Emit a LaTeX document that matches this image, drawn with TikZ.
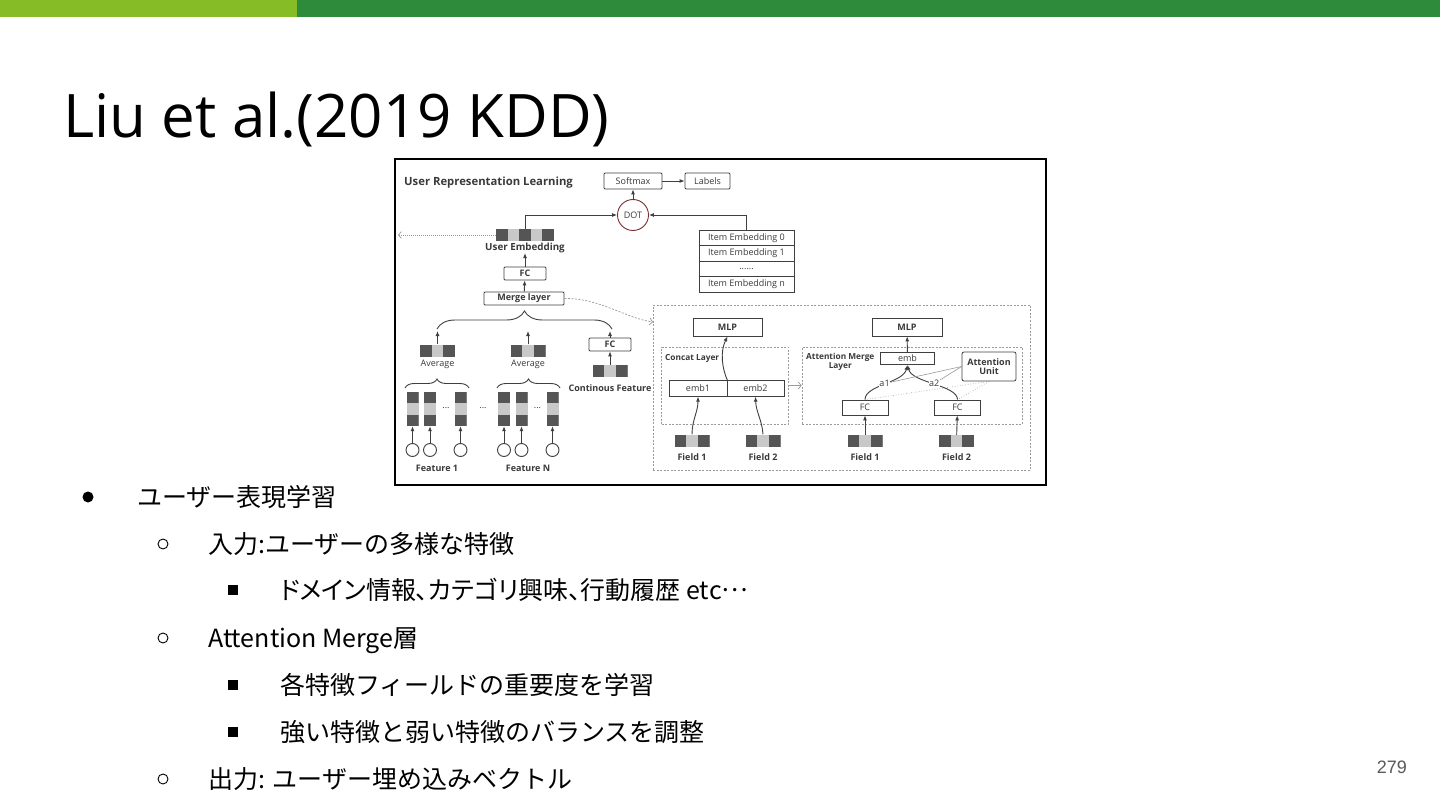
\documentclass[tikz,border=0pt]{standalone}
\usepackage{fontspec}
\setmainfont{Open Sans}
\newfontfamily\jpfont{Noto Sans CJK JP}
\newfontfamily\jppfont[RawFeature=+palt]{Noto Sans CJK JP}
\newfontfamily\numfont{Liberation Sans}
\usetikzlibrary{calc,arrows.meta,decorations.pathreplacing}

\definecolor{lightgreen}{HTML}{86BC25}
\definecolor{darkgreen}{HTML}{2D8B3B}
\definecolor{boxgray}{HTML}{3F3F3F}
\definecolor{txtgray}{HTML}{3A3A3A}
\definecolor{segdark}{HTML}{555555}
\definecolor{seglight}{HTML}{C8C8C8}
\definecolor{dashgray}{HTML}{9A9A9A}
\definecolor{dotred}{HTML}{7A3030}
\definecolor{pagegray}{HTML}{595959}

\begin{document}
\begin{tikzpicture}[x=1pt, y=-1pt,
    box/.style={draw=boxgray, line width=0.8pt, text=txtgray, font=\fontsize{9}{9.5}\selectfont, inner sep=0pt, rounded corners=1pt},
    bbox/.style={box, font=\bfseries\fontsize{9}{9.5}\selectfont},
    item/.style={box, rounded corners=0pt, minimum width=95, minimum height=15.5},
    lab/.style={text=txtgray, font=\bfseries\fontsize{9}{9.5}\selectfont, inner sep=0pt},
    thinlab/.style={text=txtgray, font=\fontsize{9}{9.5}\selectfont, inner sep=0pt},
    arr/.style={draw=boxgray, line width=0.9pt, -{Latex[length=5pt,width=4pt]}},
    openarr/.style={draw=dashgray, line width=0.7pt, -{Straight Barb[length=3pt,width=7pt]}},
    dashbox/.style={draw=dashgray, line width=0.6pt, dash pattern=on 2pt off 1.5pt, inner sep=0pt},
    featcirc/.style={circle, draw=boxgray, line width=0.9pt, minimum size=13, inner sep=0pt},
    bracedeco/.style={decorate, decoration={brace, amplitude=#1}, draw=boxgray, line width=0.9pt},
    hbarthree/.style={minimum width=35, minimum height=12, inner sep=0pt, fill=seglight,
      path picture={
        \fill[segdark] (path picture bounding box.south west) rectangle ($(path picture bounding box.north west)!0.333!(path picture bounding box.north east)$);
        \fill[segdark] ($(path picture bounding box.south west)!0.667!(path picture bounding box.south east)$) rectangle (path picture bounding box.north east);
      }},
    vbarthree/.style={minimum width=12, minimum height=34, inner sep=0pt, fill=seglight,
      path picture={
        \fill[segdark] (path picture bounding box.north west) rectangle ($(path picture bounding box.north east)!0.333!(path picture bounding box.south east)$);
        \fill[segdark] ($(path picture bounding box.north west)!0.667!(path picture bounding box.south west)$) rectangle (path picture bounding box.south east);
      }},
    hbarfive/.style={minimum width=58, minimum height=12, inner sep=0pt, fill=seglight,
      path picture={
        \foreach \a/\b in {0/0.2, 0.4/0.6, 0.8/1}
          \fill[segdark] ($(path picture bounding box.south west)!\a!(path picture bounding box.south east)$) rectangle ($(path picture bounding box.north west)!\b!(path picture bounding box.north east)$);
      }},
    jptext/.style={anchor=base west, inner sep=0pt, font=\jpfont\fontsize{25}{25}\selectfont}
]
    \fill[white] (0,0) rectangle (1440,810);
    \useasboundingbox (0,0) rectangle (1440,810);
    \fill[lightgreen] (0,0) rectangle (297,17);
    \fill[darkgreen] (297,0) rectangle (1440,17);

    \node [anchor=base west, inner sep=0pt, font=\fontsize{60}{60}\selectfont] (title) at (63,138) {Liu et al.(2019 KDD)};

    % figure
    \node [draw, line width=1.6pt, minimum width=651, minimum height=326, inner sep=0pt] (frame) at (720.5,322) {};
    \node [lab, anchor=west, font=\bfseries\fontsize{11.3}{12}\selectfont] (figtitle) at (404,183) {User Representation Learning};

    \node [box, minimum width=58, minimum height=16] (softmax) at (633,181) {Softmax};
    \node [box, minimum width=45, minimum height=16] (labels) at (707.5,181) {Labels};
    \node [circle, draw=dotred, line width=0.9pt, minimum size=31, inner sep=0pt, text=txtgray, font=\fontsize{9}{9.5}\selectfont] (dot) at (633,215) {DOT};

    \node [hbarfive] (uemb) at (525,235) {};
    \node [lab, font=\bfseries\fontsize{9.8}{10}\selectfont] (uemblab) at (525,248) {User Embedding};
    \node [bbox, minimum width=42, minimum height=13] (fc) at (525,273.5) {FC};
    \node [bbox, minimum width=80, minimum height=13] (merge) at (524,298.5) {Merge layer};

    \node [item] (item0) at (746.5,238) {Item Embedding 0};
    \node [item] (item1) at (746.5,253.5) {Item Embedding 1};
    \node [item] (itemdots) at (746.5,269) {......};
    \node [item] (itemn) at (746.5,284.5) {Item Embedding n};

    \coordinate (leftout) at (398,235);
    \coordinate (bigin) at (653,322);

    \draw [arr] (softmax) -- (labels);
    \draw [arr] (dot) -- (softmax);
    \draw [arr] (uemb.north) |- (dot);
    \draw [arr] (item0.north) |- (dot);
    \draw [arr] (fc) -- (uemblab);
    \draw [arr] (merge) -- (fc);
    \draw [openarr, dash pattern=on 1pt off 1pt] (uemb.west) -- (leftout);
    \draw [openarr, dash pattern=on 2pt off 1.5pt] (merge.east) .. controls (600,298) and (625,318) .. (bigin);

    % features
    \draw [bracedeco=18] (437,329) -- (612,329);
    \coordinate (bt1) at (437.5,331);
    \coordinate (bt2) at (528,331);
    \coordinate (bt3) at (610,331);

    \node [hbarthree] (avg1) at (437.5,350.5) {};
    \node [thinlab] (avg1lab) at (437.5,364) {Average};
    \node [hbarthree] (avg2) at (528,350.5) {};
    \node [thinlab] (avg2lab) at (528,364) {Average};
    \node [bbox, minimum width=42, minimum height=13] (cfc) at (610,344.5) {FC};
    \node [hbarthree] (cbar) at (610,371) {};
    \node [lab] (clab) at (610,388) {Continous Feature};

    \draw [arr] (avg1) -- (bt1);
    \draw [arr] (avg2) -- (bt2);
    \draw [arr] (cfc) -- (bt3);
    \draw [arr] (cbar) -- (cfc);

    \draw [bracedeco=9] (405,388) -- (469,388);
    \draw [bracedeco=9] (497,388) -- (560,388);

    \foreach \n/\x in {a/412.5, b/430, c/460.5, d/504, e/521.5, f/552.5} {
        \node [vbarthree] (col\n) at (\x,409) {};
        \node [featcirc] (in\n) at (\x,450) {};
        \draw [arr] (in\n) -- (col\n);
    }
    \node [thinlab] (dotsa) at (446,408) {...};
    \node [thinlab] (dotsb) at (483,408) {...};
    \node [thinlab] (dotsc) at (537.5,408) {...};
    \node [lab] (f1lab) at (437,468) {Feature 1};
    \node [lab] (fnlab) at (528,468) {Feature N};

    % concat and attention merge
    \node [dashbox, minimum width=377, minimum height=165] (bigbox) at (841.5,387.5) {};

    \node [bbox, rounded corners=0pt, minimum width=69, minimum height=18] (mlp1) at (727.5,327) {MLP};
    \node [dashbox, minimum width=127, minimum height=77] (concat) at (725,385.5) {};
    \node [lab, anchor=west, font=\bfseries\fontsize{8.3}{9}\selectfont] (concatlab) at (665,358) {Concat Layer};
    \node [box, rounded corners=0pt, minimum width=58, minimum height=15.5] (emb1) at (698,388.5) {emb1};
    \node [box, rounded corners=0pt, minimum width=57, minimum height=15.5] (emb2) at (755.5,388.5) {emb2};
    \node [hbarthree] (fld1) at (692,440.5) {};
    \node [lab] (fld1lab) at (692,457) {Field 1};
    \node [hbarthree] (fld2) at (763,440.5) {};
    \node [lab] (fld2lab) at (763,457) {Field 2};

    \draw [arr] (fld1.north) .. controls (692,420) and (698,412) .. (emb1.south);
    \draw [arr] (fld2.north) .. controls (762,420) and (756,412) .. (emb2.south);
    \draw [arr] (emb1.north east) .. controls (722,368) and (720,352) .. (mlp1.south);

    \node [bbox, rounded corners=0pt, minimum width=70, minimum height=18] (mlp2) at (907,327) {MLP};
    \node [dashbox, minimum width=220, minimum height=77] (attn) at (912,385.5) {};
    \node [lab, align=center, anchor=north west, font=\bfseries\fontsize{8.3}{9}\selectfont] (attnlab) at (806,353) {Attention Merge\\Layer};
    \node [box, rounded corners=0pt, minimum width=54, minimum height=12] (emb) at (907.5,358.5) {emb};
    \node [bbox, align=center, minimum width=54, minimum height=29, rounded corners=2pt] (au) at (989,366.5) {Attention\\Unit};
    \node [box, rounded corners=0pt, minimum width=46, minimum height=15] (fc1) at (865,407.5) {FC};
    \node [box, rounded corners=0pt, minimum width=46, minimum height=15] (fc2) at (957.5,407.5) {FC};
    \node [hbarthree] (fld3) at (865,441) {};
    \node [lab] (fld3lab) at (865,457) {Field 1};
    \node [hbarthree] (fld4) at (956.5,441) {};
    \node [lab] (fld4lab) at (956.5,457) {Field 2};

    \draw [arr] (fld3) -- (fc1);
    \draw [arr] (fld4) -- (fc2);
    \draw [arr] (emb) -- (mlp2);
    \draw [arr] (fc1.north) .. controls (865,385) and (903,383) .. node [thinlab, fill=white, inner sep=0.5pt] (a1) {a1} (emb.south);
    \draw [arr] (fc2.north) .. controls (957.5,385) and (912,383) .. node [thinlab, fill=white, inner sep=0.5pt] (a2) {a2} (emb.south);
    \draw [dashgray, line width=0.6pt] (au.west) -- (a1);
    \draw [dashgray, line width=0.6pt] (au.west) -- (a2);
    \draw [dashgray, line width=0.6pt, dotted] (au.south) -- (fc1.north);
    \draw [dashgray, line width=0.6pt, dotted] (au.south) -- (fc2.north);
    \draw [openarr] (concat.east) -- (attn.west);

    % bullets
    \node [circle, fill=black, minimum size=11, inner sep=0pt] (b1) at (88,497) {};
    \node [circle, draw=black, line width=0.9pt, minimum size=10, inner sep=0pt] (b2) at (163,544) {};
    \node [fill=black, minimum size=10, inner sep=0pt] (b3) at (233,590) {};
    \node [circle, draw=black, line width=0.9pt, minimum size=10, inner sep=0pt] (b4) at (163,638) {};
    \node [fill=black, minimum size=10, inner sep=0pt] (b5) at (233,685) {};
    \node [fill=black, minimum size=10, inner sep=0pt] (b6) at (233,732) {};
    \node [circle, draw=black, line width=0.9pt, minimum size=10, inner sep=0pt] (b7) at (163,779) {};

    \node [jptext] (t1) at (137,506) {ユーザー表現学習};
    \node [jptext] (t2) at (208,553) {入力:ユーザーの多様な特徴};
    \node [jptext, font=\jppfont\fontsize{25}{25}\selectfont] (t3) at (280,599) {ドメイン情報、カテゴリ興味、行動履歴 etc\raisebox{0.3em}{…}};
    \node [jptext] (t4) at (208,647) {Attention Merge層};
    \node [jptext] (t5) at (280,694) {各特徴フィールドの重要度を学習};
    \node [jptext] (t6) at (280,741) {強い特徴と弱い特徴のバランスを調整};
    \node [jptext] (t7) at (208,788) {出力: ユーザー埋め込みベクトル};

    \node [anchor=base east, inner sep=0pt, font=\numfont\fontsize{18}{18}\selectfont, text=pagegray] (pagenum) at (1407,773) {279};
\end{tikzpicture}
\end{document}
